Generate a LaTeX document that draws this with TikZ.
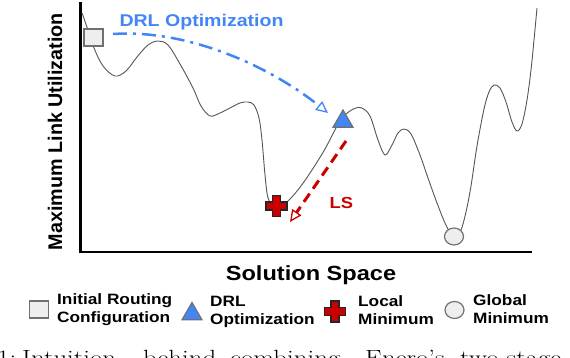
\documentclass[tikz,border=0pt]{standalone}
\usepackage{fontspec}
\usepackage{graphicx}
\usetikzlibrary{shapes.geometric,arrows.meta}
\newfontfamily\lsans{Liberation Sans}
\newfontfamily\lsansw[FakeStretch=1.15]{Liberation Sans}
\definecolor{drlblue}{HTML}{4285F4}
\definecolor{lsred}{HTML}{CC0000}
\definecolor{mkgray}{HTML}{EEEEEE}
\definecolor{edgegray}{HTML}{707070}
\definecolor{curvegray}{HTML}{555555}
\newcommand\capw[1]{\scalebox{1.22}[1]{#1}}
\begin{document}
\begin{tikzpicture}[x=1pt,y=-1pt,
  axisline/.style={line width=2.8pt, black},
  landscape/.style={curvegray, line width=0.9pt},
  initmark/.style={rectangle, draw=edgegray, fill=mkgray, line width=1.2pt, minimum width=19pt, minimum height=17pt, inner sep=0pt},
  drlmark/.style={regular polygon, regular polygon sides=3, draw=edgegray, fill=drlblue, line width=1.2pt, minimum size=23pt, inner sep=0pt},
  globmark/.style={ellipse, draw=edgegray, fill=mkgray, line width=1.2pt, minimum width=19pt, minimum height=17pt, inner sep=0pt},
  legtext/.style={font=\lsansw\bfseries\fontsize{15}{18}\selectfont, align=left, inner sep=0pt, anchor=west},
  drlarrow/.style={drlblue, line width=2.5pt, dash pattern=on 14pt off 6pt on 3pt off 6pt, -{Triangle[open, length=12pt, width=11pt, line width=1.3pt]}},
  lsarrow/.style={lsred, line width=3pt, dash pattern=on 10pt off 6pt, -{Triangle[open, length=12pt, width=11pt, line width=1.3pt]}},
  plusmark/.pic={\draw[fill=lsred, draw=black!85, line width=1.1pt] (-4,-10.5) -- (4,-10.5) -- (4,-4) -- (10.5,-4) -- (10.5,4) -- (4,4) -- (4,10.5) -- (-4,10.5) -- (-4,4) -- (-10.5,4) -- (-10.5,-4) -- (-4,-4) -- cycle;}
]
\useasboundingbox (0,0) rectangle (570,358);
\clip (0,0) rectangle (570,358);

% axes
\draw[axisline] (80.5,2) -- (80.5,252) -- (532,252);

% landscape curve
\draw[landscape] plot[smooth, tension=0.55] coordinates {
  (82,13) (88,30) (94,48) (103,66) (115,76) (126,71) (137,57) (148,45) (158,41)
  (168,45) (180,64) (193,88) (201,106) (210,116) (220,113) (230,108) (240,103) (248,102)
  (254,105) (259,118) (262,140) (265,175) (268,198) (274,206) (282,206)
  (291,198) (301,186) (312,170) (325,149) (336,128) (343,117) (350,111) (356,108) (362,108)
  (370,116) (378,140) (385,155) (392,145) (398,133) (404,129) (411,134) (420,155) (428,178)
  (437,203) (445,223) (451,234) (456,236) (461,230) (466,212) (471,186) (477,146) (484,109) (489,92) (494,85)
  (500,88) (506,102) (512,122) (517,131) (522,124) (527,100) (531,70) (534,40) (537,8)};

% markers on the landscape
\node[initmark] (init) at (93.5,37.5) {};
\node[drlmark] (drl) at (343,121.5) {};
\coordinate (lmin) at (276.5,206);
\pic at (lmin) {plusmark};
\node[globmark] (glob) at (454,236.5) {};

% arrows
\coordinate (drlstart) at (113,34);
\coordinate (drlend) at (328,113);
\draw[drlarrow] (drlstart) .. controls (190,29) and (272,68) .. (drlend);
\coordinate (lsstart) at (346,141);
\coordinate (lsend) at (290,222);
\draw[lsarrow] (lsstart) -- (lsend);

% labels
\node[font=\lsansw\bfseries\fontsize{17}{20}\selectfont, text=drlblue, anchor=base, inner sep=0pt] (drllabel) at (201.5,27) {DRL Optimization};
\node[font=\lsansw\bfseries\fontsize{16}{20}\selectfont, text=lsred, anchor=base, inner sep=0pt] (lslabel) at (341.5,208) {LS};
\node[font=\lsansw\bfseries\fontsize{20.5}{24}\selectfont, anchor=base, inner sep=0pt] (xlabel) at (311,280) {Solution Space};
\node[font=\lsans\bfseries\fontsize{19.75}{24}\selectfont, rotate=90, anchor=base, inner sep=0pt] (ylabel) at (62,131.5) {Maximum Link Utilization};

% legend
\node[initmark] (leginit) at (39,309.5) {};
\node[legtext] (leginittext) at (57,310) {Initial Routing\\Configuration};
\node[drlmark] (legdrl) at (192,314) {};
\node[legtext] (legdrltext) at (210,312) {DRL\\Optimization};
\coordinate (leglmin) at (335,311.5);
\pic at (leglmin) {plusmark};
\node[legtext] (leglmintext) at (358,310.5) {Local\\Minimum};
\node[globmark] (legglob) at (454.5,310) {};
\node[legtext] (legglobtext) at (473,309.5) {Global\\Minimum};

% caption (cut off by the image edge, as in the reference)
\node[anchor=base west, inner sep=0pt, font=\rmfamily\fontsize{22}{24}\selectfont] (caption) at (-3,365)
  {\makebox[25pt][l]{\capw{1:}}\makebox[121pt][l]{\capw{Intuition}}\makebox[87pt][l]{\capw{behind}}\makebox[135pt][l]{\capw{combining}}\makebox[95pt][l]{\capw{Enero's}}\capw{two-stage}};
\end{tikzpicture}
\end{document}
